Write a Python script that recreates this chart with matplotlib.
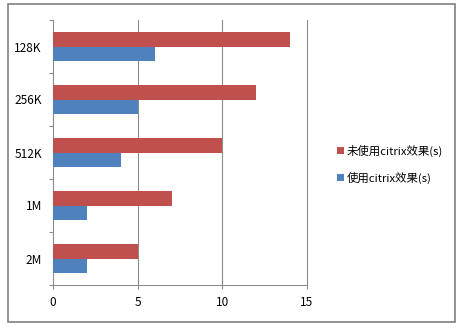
import matplotlib.pyplot as plt
from matplotlib.patches import Rectangle

plt.rcParams['font.family'] = ['Noto Sans CJK SC', 'DejaVu Sans']

# data, bottom to top
categories = ['2M', '1M', '512K', '256K', '128K']
without_citrix = [5, 7, 10, 12, 14]
with_citrix = [2, 2, 4, 5, 6]
series_names = ['未使用citrix效果(s)', '使用citrix效果(s)']
x_ticks = [0, 5, 10, 15]

red = '#C0504D'
blue = '#4F81BD'
grid_color = '#8c8c8c'

fig = plt.figure(figsize=(4.65, 3.28), dpi=100)
ax = fig.add_axes([53 / 465, 1 - 285 / 328, (307 - 53) / 465, (285 - 20) / 328])

h = 0.283
pos = list(range(len(categories)))
b1 = ax.barh([p + h / 2 for p in pos], without_citrix, height=h, color=red,
             label=series_names[0], zorder=3)
b2 = ax.barh([p - h / 2 for p in pos], with_citrix, height=h, color=blue,
             label=series_names[1], zorder=3)

ax.set_xlim(0, 15)
ax.set_ylim(-0.5, len(categories) - 0.5)
ax.set_xticks(x_ticks)
ax.set_xticklabels([str(t) for t in x_ticks], fontsize=8.5)
ax.set_yticks(pos)
ax.set_yticklabels(categories, fontsize=8.5)
ax.tick_params(axis='y', length=0, pad=8)
ax.set_yticks([p + 0.5 for p in range(-1, len(categories))], minor=True)
ax.tick_params(axis='y', which='minor', length=3, color=grid_color, width=0.8)
ax.tick_params(axis='x', length=3, color=grid_color, width=0.8, pad=5)

for t in x_ticks[1:]:
    ax.axvline(t, color=grid_color, linewidth=0.8, zorder=0, clip_on=False)
for s in ['top', 'right']:
    ax.spines[s].set_visible(False)
for s in ['left', 'bottom']:
    ax.spines[s].set_color(grid_color)
    ax.spines[s].set_linewidth(0.8)

fig.legend(handles=[b1, b2], loc='center left',
           bbox_to_anchor=(327 / 465, 1 - 164 / 328), frameon=False,
           fontsize=8.2, handlelength=0.55, handleheight=0.55, handletextpad=0.3,
           labelspacing=1.3)

fig.patches.append(Rectangle((8 / 465, 1 - 322 / 328), (455 - 8) / 465, (322 - 4) / 328,
                             transform=fig.transFigure, fill=False,
                             edgecolor='#808080', linewidth=1.2))

fig.savefig('out.png', dpi=100)
